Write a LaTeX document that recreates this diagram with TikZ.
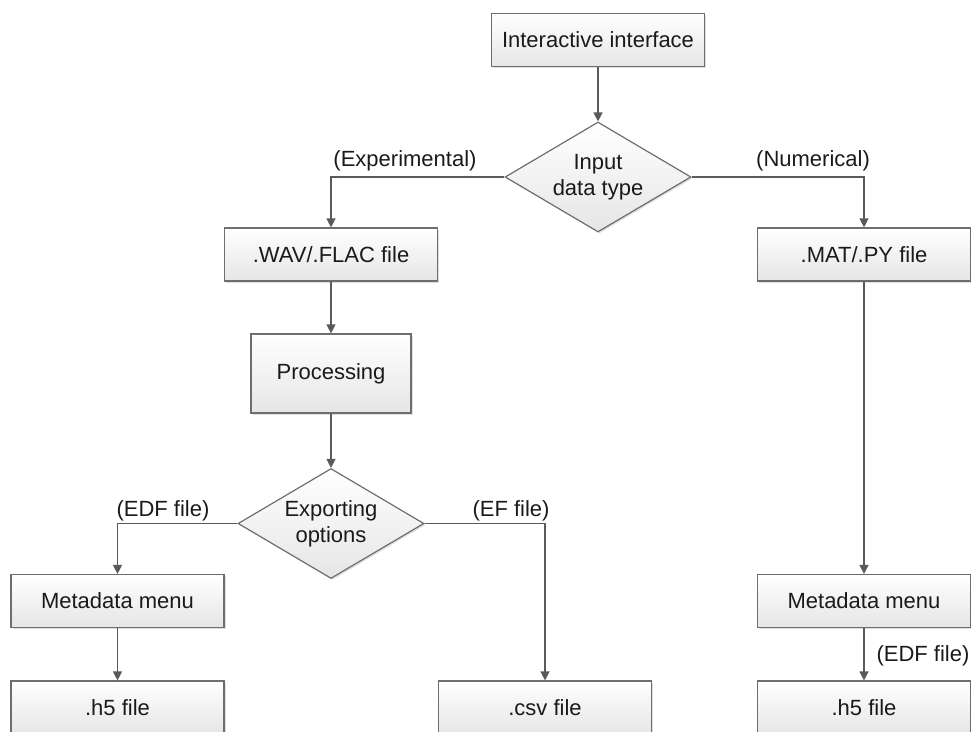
\documentclass[tikz,border=0pt]{standalone}
\usepackage{fontspec}
\setmainfont{Liberation Sans}
\usetikzlibrary{shapes.geometric,arrows.meta,shadows}
\definecolor{edgec}{HTML}{5A5A5A}
\definecolor{borderc}{HTML}{6E6E6E}
\definecolor{txtc}{HTML}{1A1A1A}
\begin{document}
\begin{tikzpicture}[x=1pt,y=-1pt,
  every node/.style={font=\fontsize{22}{26}\selectfont, text=txtc},
  box/.style={draw=borderc, line width=1.2pt, top color=white, bottom color=black!10,
    minimum width=213pt, minimum height=53pt, inner sep=0pt,
    drop shadow={shadow xshift=1.5pt, shadow yshift=-1.5pt, opacity=0.25}},
  dia/.style={diamond, draw=borderc, line width=1.2pt, top color=white, bottom color=black!10,
    minimum width=186pt, minimum height=110pt, inner sep=0pt, aspect=1.69, align=center,
    drop shadow={shadow xshift=1.5pt, shadow yshift=-1.5pt, opacity=0.25}},
  lin/.style={draw=edgec, line width=1.3pt, -{Triangle[length=9pt,width=9pt]}},
  lbl/.style={inner sep=0pt}]
\useasboundingbox (0,0) rectangle (971,731);
\clip (0,0) rectangle (971,731);
\node[box] (ii) at (598,40) {Interactive interface};
\node[dia] (dt) at (598,177) {Input\\data type};
\node[box] (wav) at (331,254.5) {.WAV/.FLAC file};
\node[box] (mat) at (864,254.5) {.MAT/.PY file};
\node[box, minimum width=160pt, minimum height=79pt] (proc) at (331,373.5) {Processing};
\node[dia] (ex) at (331,523.5) {Exporting\\options};
\node[box] (mml) at (117.5,601) {Metadata menu};
\node[box] (h5l) at (117.5,707.5) {.h5 file};
\node[box] (csv) at (545,707.5) {.csv file};
\node[box] (mmr) at (864,601) {Metadata menu};
\node[box] (h5r) at (864,707.5) {.h5 file};
\draw[lin] (ii) -- (dt);
\draw[lin] (dt.west) -| (wav.north);
\draw[lin] (dt.east) -| (mat.north);
\draw[lin] (wav) -- (proc);
\draw[lin] (proc) -- (ex);
\draw[lin] (ex.west) -| (mml.north);
\draw[lin] (ex.east) -| (csv.north);
\draw[lin] (mml) -- (h5l);
\draw[lin] (mat) -- (mmr);
\draw[lin] (mmr) -- (h5r);
\node[lbl] (lexp) at (405,161) {(Experimental)};
\node[lbl] (lnum) at (813,161) {(Numerical)};
\node[lbl] (ledf) at (163,511) {(EDF file)};
\node[lbl] (lef) at (511,511) {(EF file)};
\node[lbl] (ledf2) at (923,656) {(EDF file)};
\end{tikzpicture}
\end{document}
